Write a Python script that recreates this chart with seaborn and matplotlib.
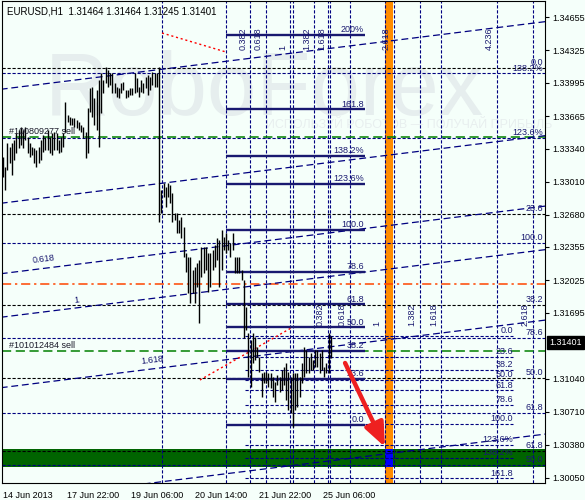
import matplotlib
matplotlib.use('Agg')
import matplotlib.pyplot as plt
import matplotlib.transforms as mtransforms
import numpy as np
import seaborn as sns

# H1 bars (high / low), oldest first
highs = [1.33255, 1.33155, 1.33395, 1.33355, 1.33395, 1.33425, 1.33495, 1.33525, 1.33555, 1.33525,
         1.33555, 1.33455, 1.33395, 1.33355, 1.33345, 1.33325, 1.33355, 1.33425, 1.33475, 1.33455,
         1.33525, 1.33455, 1.33495, 1.33505, 1.33495, 1.33425, 1.33455, 1.33495, 1.33805, 1.33675,
         1.33655, 1.33645, 1.33645, 1.33625, 1.33605, 1.33575, 1.33555, 1.33505, 1.33745, 1.33945,
         1.33955, 1.33845, 1.33925, 1.34025, 1.34095, 1.34025, 1.34155, 1.34125, 1.34095, 1.34095,
         1.33995, 1.33955, 1.33945, 1.33995, 1.34005, 1.33925, 1.33925, 1.33945, 1.33945, 1.34095,
         1.34045, 1.33955, 1.34025, 1.33995, 1.34055, 1.34075, 1.34055, 1.34105, 1.34095, 1.34095,
         1.34155, 1.32925, 1.32995, 1.32955, 1.32995, 1.32975, 1.32895, 1.32695, 1.32695, 1.32625,
         1.32655, 1.32555, 1.32295, 1.32255, 1.32255, 1.32125, 1.32155, 1.32195, 1.32225, 1.32355,
         1.32355, 1.32355, 1.32295, 1.32295, 1.32325, 1.32375, 1.32445, 1.32425, 1.32525, 1.32455,
         1.32495, 1.32425, 1.32395, 1.32495, 1.32255, 1.32255, 1.32255, 1.32125, 1.32025, 1.31755,
         1.31495, 1.31425, 1.31495, 1.31455, 1.31355, 1.31255, 1.31095, 1.31105, 1.31105, 1.31095,
         1.31095, 1.31055, 1.31005, 1.31075, 1.31055, 1.31125, 1.31155, 1.31195, 1.31105, 1.31055,
         1.31095, 1.31095, 1.31095, 1.31055, 1.31195, 1.31355, 1.31325, 1.31255, 1.31295, 1.31225,
         1.31325, 1.31325, 1.31295, 1.31325, 1.31155, 1.31195, 1.31495, 1.31464]
lows = [1.33055, 1.32925, 1.33125, 1.33195, 1.33075, 1.33225, 1.33295, 1.33345, 1.33375, 1.33345,
        1.33425, 1.33295, 1.33255, 1.33275, 1.33195, 1.33155, 1.33195, 1.33225, 1.33305, 1.33325,
        1.33325, 1.33295, 1.33275, 1.33325, 1.33325, 1.33295, 1.33305, 1.33355, 1.33505, 1.33605,
        1.33575, 1.33575, 1.33555, 1.33545, 1.33525, 1.33505, 1.33445, 1.33245, 1.33295, 1.33705,
        1.33655, 1.33575, 1.33525, 1.33355, 1.33695, 1.33895, 1.33995, 1.33955, 1.33975, 1.33895,
        1.33895, 1.33855, 1.33845, 1.33895, 1.33925, 1.33845, 1.33855, 1.33875, 1.33875, 1.33895,
        1.33905, 1.33855, 1.33905, 1.33895, 1.33945, 1.33875, 1.33925, 1.33975, 1.33955, 1.33955,
        1.32605, 1.32695, 1.32855, 1.32755, 1.32855, 1.32795, 1.32605, 1.32625, 1.32495, 1.32495,
        1.32445, 1.32255, 1.32105, 1.31895, 1.31795, 1.31895, 1.31795, 1.31955, 1.31595, 1.32055,
        1.32095, 1.32125, 1.31905, 1.31955, 1.32125, 1.32155, 1.32225, 1.31955, 1.32125, 1.32325,
        1.32295, 1.32325, 1.32255, 1.32325, 1.32095, 1.32095, 1.32095, 1.32025, 1.31445, 1.31525,
        1.31055, 1.30955, 1.31195, 1.31225, 1.31255, 1.31105, 1.30855, 1.30995, 1.30995, 1.30955,
        1.30945, 1.30855, 1.30805, 1.30975, 1.30905, 1.30925, 1.30975, 1.30825, 1.30725, 1.30695,
        1.30555, 1.30725, 1.30755, 1.30855, 1.30995, 1.31055, 1.31095, 1.31095, 1.31125, 1.31125,
        1.31155, 1.31155, 1.31095, 1.31125, 1.31055, 1.31095, 1.31095, 1.31245]

header = 'EURUSD,H1  1.31464 1.31464 1.31245 1.31401'
last_price = 1.31401

price_ticks = [1.34655, 1.34325, 1.33995, 1.33665, 1.33340, 1.33010, 1.32680,
               1.32355, 1.32025, 1.31695, 1.31040, 1.30710, 1.30380, 1.30050]
date_labels = ['14 Jun 2013', '17 Jun 22:00', '19 Jun 06:00', '20 Jun 14:00',
               '21 Jun 22:00', '25 Jun 06:00']
date_pos = [0, 28.7, 57.4, 86.1, 114.8, 143.5]

# Fibo retracement A (solid, short)
fibA_levels = [0.0, 23.6, 38.2, 50.0, 61.8, 78.6, 100.0, 123.6, 138.2, 161.8, 200.0]
fibA_text = ['0.0', '23.6', '38.2', '50.0', '61.8', '78.6', '100.0', '123.6%', '138.2%', '161.8', '200%']
fibA_p0, fibA_p100 = 1.30575, 1.32525
fibA_from, fibA_to = 100.0, 162.3

# Fibo B (black dashed rays)
fibB_levels = [0.0, 23.6, 38.2, 50.0, 61.8]
fibB_text = ['0.0', '23.6', '38.2', '50.0', '61.8']
fibB_p0, fibB_p100 = 1.34150, 1.27940

# Fibo C (navy dashed rays)
fibC_levels = [50.0, 61.8, 78.6, 100.0, 123.6, 138.2]
fibC_text = ['50.0', '61.8', '78.6', '100.0', '123.6%', '138.2%']
fibC_p0, fibC_p100 = 1.27955, 1.32395

# Fibo D (navy dashed, short)
fibD_levels = [0.0, 23.6, 38.2, 50.0, 61.8, 78.6, 100.0, 123.6, 138.2, 161.8]
fibD_text = ['0.0', '23.6', '38.2', '50.0', '61.8', '78.6', '100.0', '123.6%', '138.2%', '161.8']
fibD_p0, fibD_p100 = 1.31465, 1.30585
fibD_from, fibD_to = 108.5, 228.7

# Fibo channel
chan_base, chan_slope, chan_unit = 1.32795, 0.0000277, 0.0114
chan_levels = [-1.0, 0.0, 0.618, 1.0, 1.618, 2.618]
chan_labels = {0.618: 18.4, 1.0: 33.0, 1.618: 67.0}

# Fibo time zones
tzA_start, tzA_unit, tzA_price = 100.0, 28.7, 1.34325
tzB_start, tzB_unit, tzB_price = 130.0, 41.1, 1.31565
tzA_levels = [0, 0.382, 0.618, 1, 1.382, 1.618, 2.618, 4.236]
tzB_levels = [0, 0.382, 0.618, 1, 1.382, 1.618, 2.618]

orders = [(1.33455, '#100809277 sell'), (1.31315, '#101012484 sell')]
stop_line = 1.31985
anchor_bar = 71.3
band_lo, band_hi = 1.30150, 1.30340
target_from, target_to = 171.3, 174.9
red_diag = [((71.3, 1.34495), (100.0, 1.34305)), ((88.3, 1.31025), (130.0, 1.31555))]
arrow_from, arrow_to = (153.4, 1.31195), (171.3, 1.30355)

bg = '#F5FFFA'
navy = '#000080'
fib_col = '#1a1a70'

sns.set_theme(style='white')
plt.rcParams['font.family'] = ['Liberation Sans', 'DejaVu Sans']

fig = plt.figure(figsize=(5.85, 5.0), dpi=100, facecolor=bg)
ax = fig.add_axes([2 / 585, 17 / 500, 543 / 585, 482 / 500])
ax.set_facecolor(bg)
ax.set_xlim(-0.45, 243.05)
ax.set_ylim(1.29995, 1.34815)
fs = 6.5
short_dash = (0, (2.9, 1.6))

# watermark
ax.text(18.8, 1.33675, 'RoboForex', fontsize=64, color='#e6eeee', zorder=0.2, va='baseline')
ax.text(118, 1.33575, 'ИСПОЛЬЗУЙ РОБОТОВ — ПОЛУЧАЙ ПРИБЫЛЬ', fontsize=9,
        color='#e8efef', zorder=0.2, va='center')

# bands
ax.axhspan(band_lo, band_hi, color='#006400', zorder=1, lw=0)
ax.axvspan(target_from, target_to, color='#FF8C00', zorder=1.1, lw=0)
ax.fill_between([target_from, target_to], band_lo, band_hi, color='#0000FF', zorder=1.2, lw=0)

# fib B / C rays
for lv, t in zip(fibB_levels, fibB_text):
    p = fibB_p0 + lv / 100 * (fibB_p100 - fibB_p0)
    ax.axhline(p, color='black', lw=0.8, ls=short_dash, zorder=2)
    ax.text(242.2, p + 0.00008, t, ha='right', va='bottom', fontsize=fs, color=fib_col, zorder=5)
for lv, t in zip(fibC_levels, fibC_text):
    p = fibC_p0 + lv / 100 * (fibC_p100 - fibC_p0)
    ax.axhline(p, color=navy, lw=0.8, ls=short_dash, zorder=2)
    ax.text(242.2, p + 0.00008, t, ha='right', va='bottom', fontsize=fs, color=fib_col, zorder=5)

# fib D
for lv, t in zip(fibD_levels, fibD_text):
    p = fibD_p0 + lv / 100 * (fibD_p100 - fibD_p0)
    ax.hlines(p, fibD_from, fibD_to, color=navy, lw=0.8, ls=short_dash, zorder=2)
    ax.text(fibD_to, p + 0.00008, t, ha='right', va='bottom', fontsize=fs, color=fib_col, zorder=5)

# fib A
for lv, t in zip(fibA_levels, fibA_text):
    p = fibA_p0 + lv / 100 * (fibA_p100 - fibA_p0)
    ax.hlines(p, fibA_from, fibA_to, color='#191970', lw=1.7, zorder=2.5)
    ax.text(fibA_to - 0.4, p + 0.00008, t, ha='right', va='bottom', fontsize=fs, color=fib_col, zorder=5)

# order and stop lines
for p, t in orders:
    ax.axhline(p, color='#008000', lw=1.1, ls=(0, (6, 3)), zorder=2.2)
    ax.text(2.7, p + 0.0001, t, ha='left', va='bottom', fontsize=fs, color='#1a1a2a', zorder=5)
ax.axhline(stop_line, color='#FF4500', lw=1.1, ls=(0, (6, 2.5, 1.5, 2.5)), zorder=2.2)

# time zones
ax.axvline(anchor_bar, color=navy, lw=0.8, ls=short_dash, zorder=2)
for start, unit, lvls, yp in [(tzA_start, tzA_unit, tzA_levels, tzA_price),
                              (tzB_start, tzB_unit, tzB_levels, tzB_price)]:
    for k in lvls:
        b = start + k * unit
        ax.axvline(b, color=navy, lw=0.8, ls=short_dash, zorder=2)
        if k:
            ax.text(b - 1.4, yp, f'{k:g}', rotation=90, ha='right', va='bottom',
                    fontsize=fs, color=fib_col, zorder=5)

# fibo channel
xs = np.array([-1.0, 244.0])
for lv in chan_levels:
    ys = chan_base + chan_slope * xs - lv * chan_unit
    sns.lineplot(x=xs, y=ys, ax=ax, color=navy, lw=0.9, dashes=(5.5, 3), zorder=2.3)
    if lv in chan_labels:
        bx = chan_labels[lv]
        ax.text(bx, chan_base + chan_slope * bx - lv * chan_unit + 0.0003, f'{lv:g}',
                ha='center', va='bottom', fontsize=fs, color=fib_col, rotation=7, zorder=5)

# red diagonals
for (x0, y0), (x1, y1) in red_diag:
    ax.plot([x0, x1], [y0, y1], color='#FF0000', lw=1.0, ls=(0, (1.5, 2)), zorder=2.4)

# price bars
idx = np.arange(len(highs))
ax.vlines(idx, lows, highs, color='black', lw=1.0, zorder=3)

# arrow
ax.annotate('', xy=arrow_to, xytext=arrow_from, zorder=6,
            arrowprops=dict(arrowstyle='-|>,head_length=1.2,head_width=0.5',
                            color='#EE2020', lw=3.2, shrinkA=0, shrinkB=0))

# axes
for s in ax.spines.values():
    s.set_color('black')
    s.set_linewidth(0.8)
ax.yaxis.tick_right()
ax.set_yticks(price_ticks)
ax.set_yticklabels([f'{p:.5f}' for p in price_ticks])
ax.set_xticks(date_pos)
ax.set_xticklabels(date_labels, ha='left')
ax.tick_params(axis='y', length=3, width=0.8, pad=2, labelsize=fs, colors='black')
ax.tick_params(axis='x', length=4, width=0.8, pad=1.5, labelsize=fs, colors='black')
ax.set_xlabel('')
ax.set_ylabel('')
ax.grid(False)

trans = mtransforms.blended_transform_factory(ax.transAxes, ax.transData)
ax.text(1.0 + 4 / 543, last_price, f'{last_price:.5f}', transform=trans, ha='left', va='center',
        fontsize=fs, color='white', zorder=7, clip_on=False,
        bbox=dict(boxstyle='square,pad=0.25', fc='black', ec='black'))
ax.text(5 / 543, 1 - 10 / 482, header, transform=ax.transAxes, ha='left', va='center',
        fontsize=fs + 0.5, color='black', zorder=7)

fig.savefig('out.png', dpi=100, facecolor=bg)
